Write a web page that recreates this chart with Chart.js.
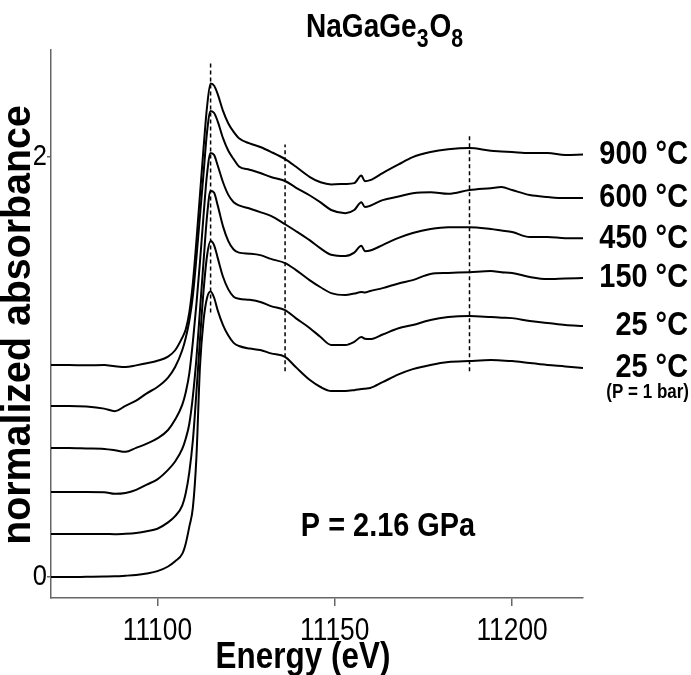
<!DOCTYPE html>
<html>
<head>
<meta charset="utf-8">
<script src="https://cdn.jsdelivr.net/npm/chart.js@4.4.1/dist/chart.umd.min.js"></script>
<style>
  html, body { margin: 0; padding: 0; background: #fff; }
  #wrap { width: 691px; height: 675px; }
</style>
</head>
<body>
<div id="wrap"><canvas id="chart" width="691" height="675"></canvas></div>
<script>
// Energy grid (eV), shared by every spectrum
const energy = [11070, 11075, 11080, 11085, 11088, 11091, 11094, 11097, 11100, 11103, 11105, 11107, 11108, 11109,
  11110, 11111, 11112, 11113, 11114, 11115, 11116, 11117, 11118.5, 11120, 11121.5, 11123, 11126, 11129, 11132,
  11136, 11139, 11143, 11146, 11149, 11153, 11155.5, 11157.5, 11158.5, 11160, 11163.5, 11168, 11172, 11177,
  11182, 11188, 11194, 11197, 11200, 11205, 11210, 11215, 11220];

// Normalized absorbance (before stacking offset)
const abs900 = [0.01, 0.01, 0.008, 0.01, 0.004, 0.0, 0.008, 0.018, 0.03, 0.05, 0.08, 0.14, 0.18, 0.26,
  0.4, 0.6, 0.82, 1.04, 1.24, 1.35, 1.34, 1.3, 1.22, 1.16, 1.12, 1.09, 1.065, 1.048, 1.025,
  0.99, 0.955, 0.905, 0.88, 0.87, 0.872, 0.876, 0.912, 0.885, 0.89, 0.924, 0.965, 1.0, 1.024,
  1.037, 1.043, 1.03, 1.027, 1.024, 1.019, 1.02, 1.01, 1.012];
const abs600 = [0.015, 0.015, 0.012, 0.002, -0.01, 0.015, 0.04, 0.075, 0.105, 0.15, 0.2, 0.28, 0.34, 0.42,
  0.54, 0.72, 0.92, 1.12, 1.32, 1.42, 1.41, 1.37, 1.29, 1.23, 1.19, 1.155, 1.14, 1.124, 1.105,
  1.086, 1.055, 1.017, 0.984, 0.948, 0.933, 0.948, 0.985, 0.962, 0.968, 0.995, 1.012, 1.028, 1.033,
  1.025, 1.043, 1.052, 1.057, 1.043, 1.019, 1.01, 1.005, 1.005];
const abs450 = [0.014, 0.014, 0.012, 0.01, 0.004, -0.004, 0.015, 0.035, 0.06, 0.1, 0.15, 0.22, 0.28, 0.37,
  0.52, 0.7, 0.9, 1.12, 1.32, 1.42, 1.41, 1.36, 1.28, 1.22, 1.185, 1.17, 1.155, 1.138, 1.12,
  1.08, 1.048, 1.003, 0.965, 0.935, 0.929, 0.945, 0.978, 0.952, 0.955, 0.981, 1.015, 1.038, 1.057,
  1.066, 1.066, 1.057, 1.05, 1.043, 1.019, 1.019, 1.014, 1.014];
const abs150 = [0.005, 0.005, 0.005, 0.004, -0.004, 0.0, 0.015, 0.04, 0.065, 0.11, 0.15, 0.21, 0.26, 0.33,
  0.46, 0.64, 0.87, 1.1, 1.32, 1.44, 1.43, 1.37, 1.27, 1.2, 1.16, 1.145, 1.14, 1.133, 1.115,
  1.095, 1.063, 1.013, 0.98, 0.952, 0.943, 0.95, 0.957, 0.955, 0.962, 0.976, 0.998, 1.014, 1.043,
  1.048, 1.052, 1.057, 1.052, 1.048, 1.029, 1.019, 1.022, 1.024];
const abs25 = [0.005, 0.005, 0.005, 0.005, 0.004, 0.006, 0.01, 0.018, 0.03, 0.06, 0.09, 0.14, 0.2, 0.3,
  0.45, 0.68, 0.93, 1.16, 1.33, 1.4, 1.38, 1.32, 1.23, 1.17, 1.135, 1.125, 1.12, 1.11, 1.09,
  1.071, 1.033, 0.985, 0.943, 0.905, 0.905, 0.92, 0.943, 0.935, 0.933, 0.955, 0.985, 1.0, 1.024,
  1.038, 1.043, 1.038, 1.035, 1.033, 1.019, 1.01, 1.0, 0.995];
const abs25bar = [0.0, 0.0, 0.001, 0.002, 0.003, 0.006, 0.01, 0.017, 0.028, 0.05, 0.075, 0.11, 0.16, 0.24,
  0.33, 0.57, 1.0, 1.22, 1.33, 1.36, 1.33, 1.27, 1.2, 1.15, 1.115, 1.1, 1.088, 1.081, 1.065,
  1.048, 1.0, 0.938, 0.905, 0.886, 0.886, 0.89, 0.895, 0.897, 0.9, 0.928, 0.965, 0.99, 1.01,
  1.024, 1.029, 1.033, 1.031, 1.029, 1.019, 1.01, 1.003, 0.995];

const seriesValues = [abs900, abs600, abs450, abs150, abs25, abs25bar];
const seriesLabels = ['900 °C', '600 °C', '450 °C', '150 °C', '25 °C', '25 °C'];
const offsets = [1.0, 0.8, 0.6, 0.4, 0.2, 0.0];

// vertical dashed guide lines: energy, bottom, top (absorbance units)
const guideEnergy = [11115, 11136, 11188];
const guideBottom = [1.26, 0.98, 0.98];
const guideTop = [2.45, 2.06, 2.11];

const xTicks = [11100, 11150, 11200];
const yTicks = [0, 2];

const FONT = 'Arial, "Liberation Sans", Helvetica, sans-serif';
const SQUEEZE = 0.85; // the original lettering is a narrow face
const AXIS_GREY = '#666';

const datasets = seriesValues.map((vals, i) => ({
  label: seriesLabels[i],
  data: energy.map((e, k) => ({ x: e, y: vals[k] + offsets[i] })),
  borderColor: '#000',
  borderWidth: 2,
  pointRadius: 0,
  cubicInterpolationMode: 'monotone',
  fill: false
}));

guideEnergy.forEach((e, i) => {
  datasets.push({
    label: 'guide' + i,
    data: [{ x: e, y: guideBottom[i] }, { x: e, y: guideTop[i] }],
    borderColor: '#000',
    borderWidth: 1.5,
    borderDash: [4, 3],
    pointRadius: 0,
    fill: false
  });
});

// narrow text helper: draws text squeezed along its direction
function narrowText(ctx, text, x, y, size, bold, align, baseline, rotate, squeeze = SQUEEZE) {
  ctx.save();
  ctx.translate(x, y);
  if (rotate) ctx.rotate(-Math.PI / 2);
  ctx.scale(squeeze, 1);
  ctx.font = (bold ? 'bold ' : '') + size + 'px ' + FONT;
  ctx.textAlign = align;
  ctx.textBaseline = baseline;
  ctx.fillStyle = '#000';
  ctx.fillText(text, 0, 0);
  const w = ctx.measureText(text).width * squeeze;
  ctx.restore();
  return w;
}

const textPlugin = {
  id: 'annotations',
  afterDraw(chart) {
    const { ctx } = chart;
    const xs = chart.scales.x;
    const ys = chart.scales.y;

    // axis titles
    narrowText(ctx, 'normalized absorbance', 30, 325, 41, true, 'center', 'alphabetic', true, 0.96);
    narrowText(ctx, 'Energy (eV)', 303, 668, 37, true, 'center', 'alphabetic');

    // tick labels
    xTicks.forEach(v => narrowText(ctx, String(v), xs.getPixelForValue(v), 640, 31, false, 'center', 'alphabetic'));
    yTicks.forEach(v => narrowText(ctx, String(v), 47, ys.getPixelForValue(v), 30, false, 'right', 'middle'));

    // temperature labels next to each curve end
    seriesValues.forEach((vals, i) => {
      const y = ys.getPixelForValue(vals[vals.length - 1] + offsets[i]);
      narrowText(ctx, seriesLabels[i], 688, y, 34, true, 'right', 'middle');
    });
    const yLast = ys.getPixelForValue(abs25bar[abs25bar.length - 1] + offsets[5]);
    narrowText(ctx, '(P = 1 bar)', 689, yLast + 24, 20, true, 'right', 'middle');

    // pressure note
    narrowText(ctx, 'P = 2.16 GPa', 388, 527, 34, true, 'center', 'middle');

    // title with subscripts
    const parts = [['NaGaGe', false], ['3', true], ['O', false], ['8', true]];
    let x = 306;
    parts.forEach(([t, sub]) => {
      x += narrowText(ctx, t, x, sub ? 47 : 37, sub ? 25 : 33, true, 'left', 'alphabetic') + (sub ? 1 : 0);
    });
  }
};

new Chart(document.getElementById('chart'), {
  type: 'line',
  data: { datasets },
  options: {
    responsive: false,
    animation: false,
    devicePixelRatio: 1,
    layout: { padding: { top: 50, right: 108, left: 0, bottom: 0 } },
    plugins: { legend: { display: false }, tooltip: { enabled: false } },
    scales: {
      x: {
        type: 'linear',
        min: 11070,
        max: 11220,
        afterBuildTicks: s => { s.ticks = xTicks.map(v => ({ value: v })); },
        afterFit: s => { s.height = 77; },
        ticks: { display: false },
        grid: { drawOnChartArea: false, drawTicks: true, tickLength: 8, color: AXIS_GREY, lineWidth: 1.5 },
        border: { color: AXIS_GREY, width: 1.5 }
      },
      y: {
        type: 'linear',
        min: -0.1,
        max: 2.51,
        afterBuildTicks: s => { s.ticks = yTicks.map(v => ({ value: v })); },
        afterFit: s => { s.width = 51; },
        ticks: { display: false },
        grid: { drawOnChartArea: false, drawTicks: true, tickLength: 4, color: AXIS_GREY, lineWidth: 1.5 },
        border: { color: AXIS_GREY, width: 1.5 }
      }
    }
  },
  plugins: [textPlugin]
});
</script>
</body>
</html>
